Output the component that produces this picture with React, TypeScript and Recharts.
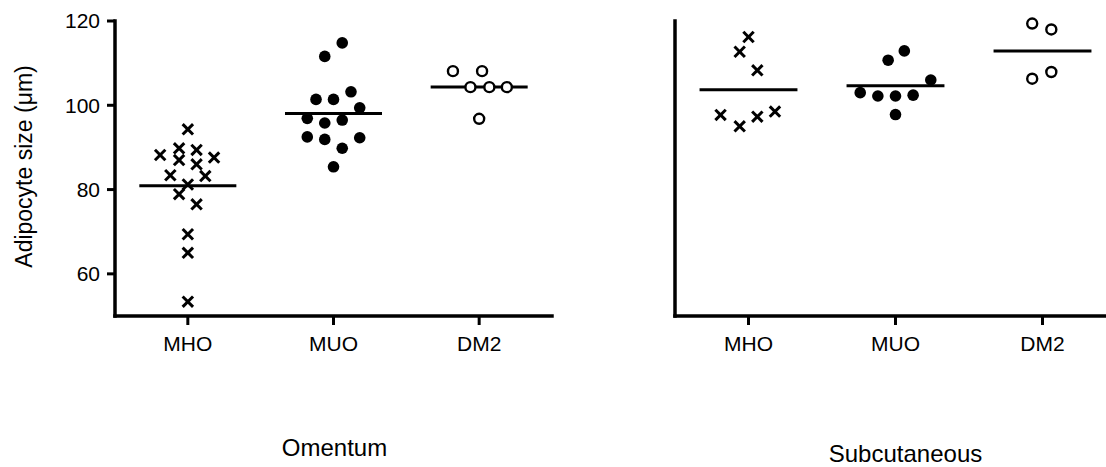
import React from "react";
import { ScatterChart, Scatter, XAxis, YAxis, ReferenceLine, Label } from "recharts";

const groups = ["MHO", "MUO", "DM2"];
const yTicks = [60, 80, 100, 120];

// Omentum, adipocyte size (µm) per subject
const omMHO = [94.3, 88.2, 89.8, 87.0, 89.4, 86.0, 87.6, 83.4, 83.2, 81.2, 78.9, 76.5, 69.4, 65.0, 53.4];
const omMUO = [114.8, 111.6, 101.4, 101.4, 103.2, 99.4, 96.9, 95.8, 96.5, 92.5, 91.9, 92.3, 89.8, 85.4];
const omDM2 = [108.1, 108.1, 104.3, 104.3, 104.3, 96.8];

// Subcutaneous
const scMHO = [116.2, 112.7, 108.3, 97.7, 95.0, 97.3, 98.5];
const scMUO = [112.9, 110.7, 106.0, 103.0, 102.2, 102.2, 102.4, 97.8];
const scDM2 = [119.4, 118.0, 106.3, 107.9];

// horizontal scatter offsets (in category units) so the dots don't overlap
const omMHOJit = [0, -0.19, -0.06, -0.06, 0.06, 0.06, 0.18, -0.12, 0.12, 0, -0.06, 0.06, 0, 0, 0];
const omMUOJit = [0.06, -0.06, -0.12, 0, 0.12, 0.18, -0.18, -0.06, 0.06, -0.18, -0.06, 0.18, 0.06, 0];
const omDM2Jit = [-0.18, 0.02, -0.06, 0.07, 0.19, 0];
const scMHOJit = [0, -0.06, 0.06, -0.19, -0.06, 0.06, 0.18];
const scMUOJit = [0.06, -0.05, 0.24, -0.24, -0.12, 0, 0.12, 0];
const scDM2Jit = [-0.07, 0.06, -0.07, 0.06];

const font = "'Liberation Sans', Arial, Helvetica, sans-serif";

const toPoints = (vals: number[], jit: number[], g: number) =>
  vals.map((v, k) => ({ x: g + 1 + jit[k], y: v }));

const mean = (vals: number[]) => vals.reduce((a, b) => a + b, 0) / vals.length;

const Cross = (props: any) => {
  const { cx, cy } = props;
  const h = 5.2;
  return (
    <g stroke="#000" strokeWidth={3}>
      <line x1={cx - h} y1={cy - h} x2={cx + h} y2={cy + h} />
      <line x1={cx - h} y1={cy + h} x2={cx + h} y2={cy - h} />
    </g>
  );
};

const Dot = (props: any) => <circle cx={props.cx} cy={props.cy} r={5.8} fill="#000" />;

const Ring = (props: any) => (
  <circle cx={props.cx} cy={props.cy} r={5} fill="#fff" stroke="#000" strokeWidth={2.4} />
);

const shapes = [Cross, Dot, Ring];

interface PanelProps {
  sets: number[][];
  jitters: number[][];
  title: string;
  titleShift: number;
  titleOffset: number;
  marginRight: number;
  first: boolean;
}

function Panel({ sets, jitters, title, titleShift, titleOffset, marginRight, first }: PanelProps) {
  return (
    <ScatterChart width={560} height={467} margin={{ top: 21, right: marginRight, left: 0, bottom: 0 }}>
      <XAxis
        type="number"
        dataKey="x"
        domain={[0.5, 3.5]}
        ticks={[1, 2, 3]}
        interval={0}
        tickFormatter={(v: number) => groups[Math.round(v) - 1]}
        height={151}
        axisLine={{ stroke: "#000", strokeWidth: 3.5, strokeLinecap: "square" }}
        tickLine={{ stroke: "#000", strokeWidth: 3 }}
        tickSize={9}
        tickMargin={11}
        tick={{ fill: "#000", fontSize: 21, fontFamily: font }}
      >
        <Label
          value={title}
          content={(p: any) => {
            const vb = p.viewBox;
            return (
              <text
                x={vb.x + vb.width / 2 + titleShift}
                y={vb.y + vb.height - titleOffset}
                textAnchor="middle"
                fontSize={24}
                fontFamily={font}
                fill="#000"
              >
                {title}
              </text>
            );
          }}
        />
      </XAxis>
      <YAxis
        type="number"
        dataKey="y"
        domain={[50, 120]}
        ticks={yTicks}
        width={115}
        axisLine={{ stroke: "#000", strokeWidth: 3.5, strokeLinecap: "square" }}
        tickLine={first ? { stroke: "#000", strokeWidth: 3 } : false}
        tickSize={8}
        tickMargin={7}
        tick={first ? { fill: "#000", fontSize: 21, fontFamily: font } : false}
      >
        {first && (
          <Label
            value="Adipocyte size (μm)"
            content={(p: any) => {
              const vb = p.viewBox;
              const x = 32;
              const y = vb.y + vb.height / 2 - 2;
              return (
                <text
                  x={x}
                  y={y}
                  transform={`rotate(-90 ${x} ${y})`}
                  textAnchor="middle"
                  fontSize={23}
                  fontFamily={font}
                  fill="#000"
                >
                  Adipocyte size (μm)
                </text>
              );
            }}
          />
        )}
      </YAxis>
      {sets.map((vals, g) => (
        <ReferenceLine
          key={"m" + g}
          segment={[
            { x: g + 1 - 0.333, y: mean(vals) },
            { x: g + 1 + 0.333, y: mean(vals) },
          ]}
          stroke="#000"
          strokeWidth={3}
        />
      ))}
      {sets.map((vals, g) => (
        <Scatter
          key={groups[g]}
          name={groups[g]}
          data={toPoints(vals, jitters[g], g)}
          shape={shapes[g]}
          isAnimationActive={false}
        />
      ))}
    </ScatterChart>
  );
}

export default function App() {
  return (
    <div
      style={{
        position: "absolute",
        left: 0,
        top: 0,
        width: 1106,
        height: 467,
        overflow: "hidden",
        background: "#fff",
      }}
    >
      <div style={{ position: "absolute", left: 0, top: 0 }}>
        <Panel
          sets={[omMHO, omMUO, omDM2]}
          jitters={[omMHOJit, omMUOJit, omDM2Jit]}
          title="Omentum"
          titleShift={1}
          titleOffset={11}
          marginRight={8}
          first
        />
      </div>
      <div style={{ position: "absolute", left: 560, top: 0 }}>
        <Panel
          sets={[scMHO, scMUO, scDM2]}
          jitters={[scMHOJit, scMUOJit, scDM2Jit]}
          title="Subcutaneous"
          titleShift={10}
          titleOffset={5}
          marginRight={4}
          first={false}
        />
      </div>
    </div>
  );
}
